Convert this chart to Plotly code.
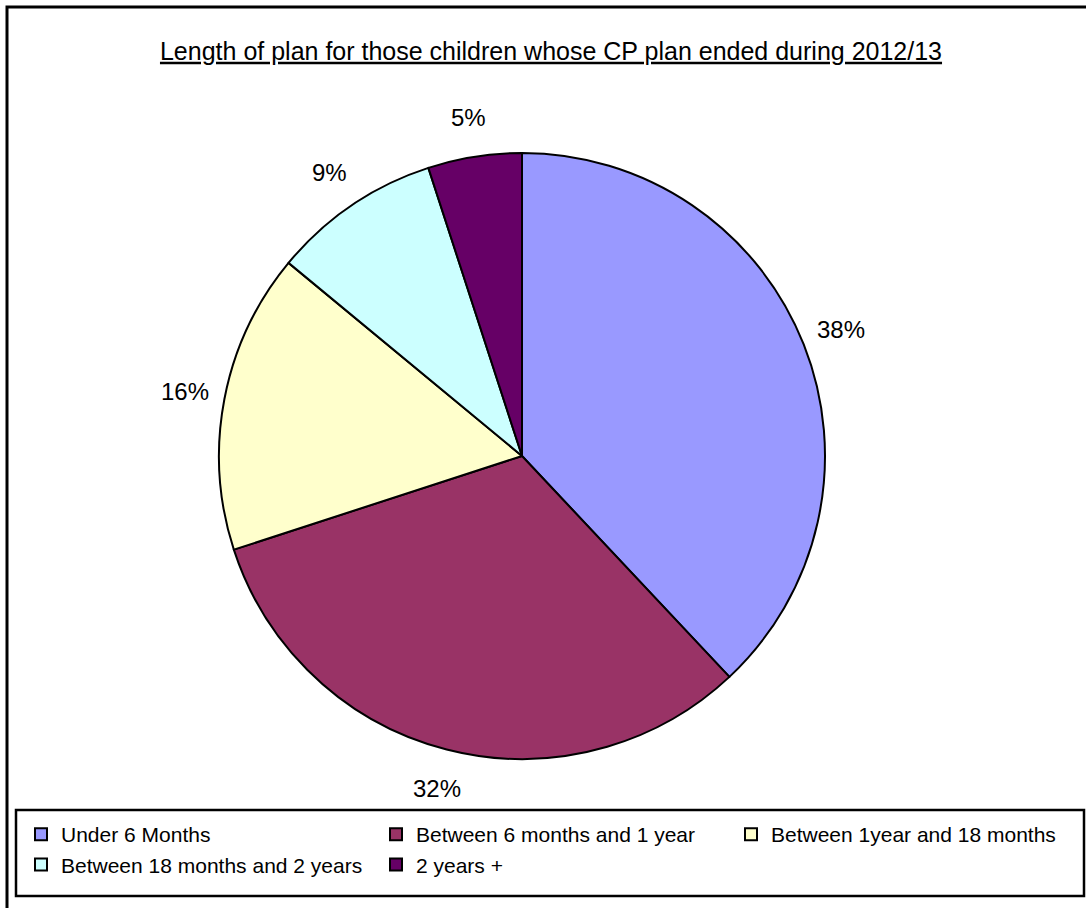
import math
import plotly.graph_objects as go

# Length of child protection plans that ended during 2012/13
categories = [
    "Under 6 Months",
    "Between 6 months and 1 year",
    "Between 1year and 18 months",
    "Between 18 months and 2 years",
    "2 years +",
]
shares = [38, 32, 16, 9, 5]
slice_colors = ["#9999FF", "#993366", "#FFFFCC", "#CCFFFF", "#660066"]

W, H = 1086, 908
FONT = "Liberation Sans, Arial, sans-serif"

# pie geometry in pixels
CX, CY, R = 522, 456, 303
LABEL_R = 343

fig = go.Figure(
    go.Pie(
        labels=categories,
        values=shares,
        sort=False,
        direction="clockwise",
        rotation=0,
        marker=dict(colors=slice_colors, line=dict(color="#000000", width=2)),
        textinfo="none",
        domain=dict(x=[(CX - R) / W, (CX + R) / W], y=[1 - (CY + R) / H, 1 - (CY - R) / H]),
        hoverinfo="label+percent",
    )
)

# percentage labels placed outside each slice along its mid-angle
total = sum(shares)
annotations = []
cum = 0.0
for v in shares:
    mid = (cum + v / 2) / total * 2 * math.pi
    cum += v
    px = CX + LABEL_R * math.sin(mid)
    py = CY - LABEL_R * math.cos(mid)
    annotations.append(dict(
        x=px / W, y=1 - py / H, xref="paper", yref="paper",
        text=f"{round(v / total * 100)}%", showarrow=False,
        xanchor="center", yanchor="middle",
        font=dict(family=FONT, size=24, color="#000000"),
    ))

fig.update_layout(
    width=W,
    height=H,
    margin=dict(l=0, r=0, t=0, b=0),
    paper_bgcolor="#FFFFFF",
    plot_bgcolor="#FFFFFF",
    font=dict(family=FONT, size=21, color="#000000"),
    title=dict(
        text="<u>Length of plan for those children whose CP plan ended during 2012/13</u>",
        x=551 / W,
        xanchor="center",
        y=1 - 51 / H,
        yanchor="middle",
        font=dict(family=FONT, size=25, color="#000000"),
    ),
    annotations=annotations,
    showlegend=True,
    legend=dict(
        orientation="h",
        x=21 / W,
        xanchor="left",
        y=1 - 814 / H,
        yanchor="top",
        entrywidth=310,
        entrywidthmode="pixels",
        bgcolor="rgba(0,0,0,0)",
        borderwidth=0,
        font=dict(family=FONT, size=21, color="#000000"),
        itemwidth=30,
        traceorder="normal",
    ),
    shapes=[
        # outer chart frame
        dict(type="rect", xref="paper", yref="paper",
             x0=7 / W, x1=1.01, y0=-0.01, y1=1 - 7 / H,
             line=dict(color="#000000", width=3), fillcolor="rgba(0,0,0,0)"),
        # legend frame
        dict(type="rect", xref="paper", yref="paper",
             x0=16 / W, x1=1084 / W, y0=1 - 896 / H, y1=1 - 810 / H,
             line=dict(color="#000000", width=2.5), fillcolor="rgba(0,0,0,0)"),
    ],
)

fig.write_html("out.html")
